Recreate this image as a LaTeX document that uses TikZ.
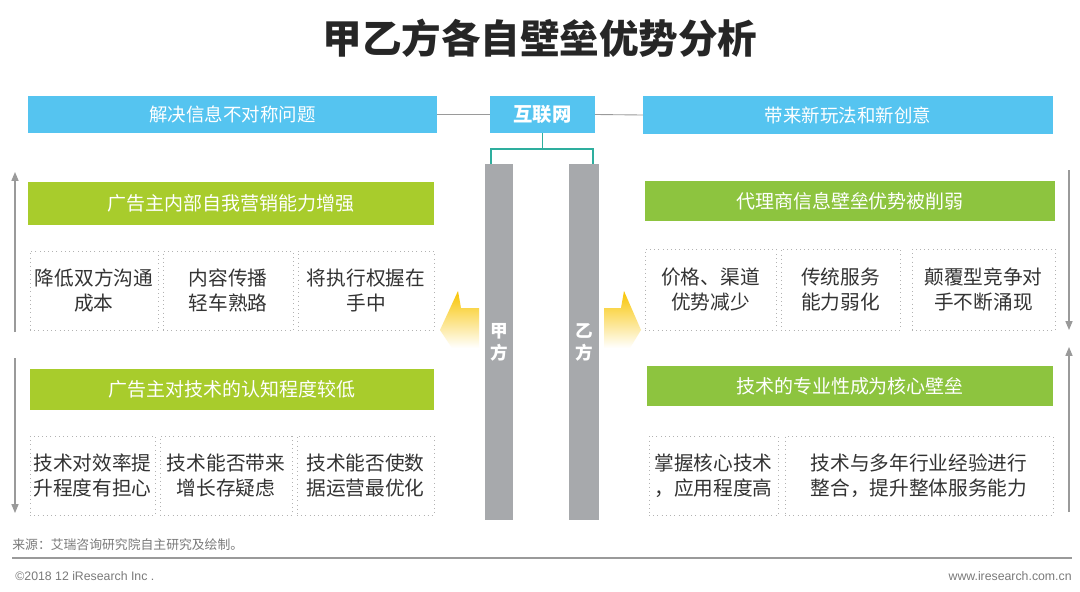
\documentclass[tikz,border=0pt]{standalone}
\usepackage{fontspec}
\setmainfont{Liberation Sans}
\newfontfamily\cjk{Noto Sans CJK SC}
\usetikzlibrary{arrows.meta}
\definecolor{cblue}{HTML}{55C4F0}
\definecolor{cgreenL}{HTML}{A8CC2C}
\definecolor{cgreenR}{HTML}{8DC43F}
\definecolor{cpillar}{HTML}{A7A9AC}
\definecolor{ctext}{HTML}{333333}
\definecolor{cteal}{HTML}{2EAE9E}
\definecolor{cline}{HTML}{9A9A9A}
\definecolor{cyellow}{HTML}{F8C400}
\definecolor{cfoot}{HTML}{7A7A7A}
\begin{document}
\begin{tikzpicture}[x=0.02cm,y=-0.02cm,
  sz/.style 2 args={minimum width=#1*0.02cm, minimum height=#2*0.02cm, inner sep=0pt, outer sep=0pt},
  bluebar/.style={fill=cblue, text=white, font=\cjk\fontsize{10.5}{12}\selectfont},
  hub/.style={fill=cblue, text=white, font=\cjk\bfseries\fontsize{11}{13}\selectfont},
  greenL/.style={fill=cgreenL, text=white, font=\cjk\fontsize{10.8}{12}\selectfont},
  greenR/.style={fill=cgreenR, text=white, font=\cjk\fontsize{10.8}{12}\selectfont},
  dbox/.style={draw=gray!60, dotted, fill=white, text=ctext, align=center, font=\cjk\fontsize{11.2}{14.2}\selectfont},
  pillar/.style={fill=cpillar},
  ptext/.style={text=white, align=center, font=\cjk\bfseries\fontsize{10}{12.5}\selectfont},
  gline/.style={draw=cline, line width=0.5pt},
  tline/.style={draw=cteal, line width=0.7pt},
  sidearrow/.style={draw=cline, line width=0.6pt, -{Triangle[length=5pt,width=4pt]}},
  yarrow/.style={top color=cyellow, bottom color=white, draw=none},
  foot/.style={text=cfoot, font=\fontsize{7}{8}\selectfont, inner sep=0pt},
]
\useasboundingbox (0,0) rectangle (1080,592);
\fill[white] (0,0) rectangle (1080,592);

% title
\node[text=black!85, font=\cjk\bfseries\fontsize{22.5}{26}\selectfont] (title) at (540,38) {甲乙方各自壁垒优势分析};

% top bars
\node[bluebar, sz={409}{37}] (lb) at (232.5,114.5) {解决信息不对称问题};
\node[hub, sz={105}{37}] (ctr) at (542.5,114.5) {互联网};
\node[bluebar, sz={410}{38}] (rb) at (848,115) {带来新玩法和新创意};
\draw[gline] (lb.east) -- (ctr.west);
\draw[gline] (ctr.east) -- (rb.west);

% pillars
\node[pillar, sz={28}{356}] (pl) at (499,342) {};
\node[pillar, sz={30}{356}] (pr) at (584,342) {};
\node[ptext] (plt) at (499,342) {甲\\方};
\node[ptext] (prt) at (584,342) {乙\\方};
\coordinate (tj) at (542.5,149);
\draw[tline] (ctr.south) -- (tj);
\draw[tline] ([xshift=0.12cm]pl.north west) |- (tj) -| ([xshift=-0.12cm]pr.north east);

% yellow arrows
\path[yarrow] (458,291) -- (461,308) -- (479,308) -- (479,348) -- (452,348) -- (440,330) -- cycle;
\path[yarrow] (624,291) -- (621,308) -- (604,308) -- (604,348) -- (630,348) -- (641,330) -- cycle;

% left side
\node[greenL, sz={406}{43}] (lg1) at (231,203.5) {广告主内部自我营销能力增强};
\node[dbox, sz={128}{79}] (l11) at (94,290.5) {降低双方沟通\\成本};
\node[dbox, sz={130}{79}] (l12) at (228,290.5) {内容传播\\轻车熟路};
\node[dbox, sz={136}{79}] (l13) at (366,290.5) {将执行权握在\\手中};
\node[greenL, sz={404}{41}] (lg2) at (232,389.5) {广告主对技术的认知程度较低};
\node[dbox, sz={125}{79}] (l21) at (92.5,475.5) {技术对效率提\\升程度有担心};
\node[dbox, sz={132}{79}] (l22) at (226,475.5) {技术能否带来\\增长存疑虑};
\node[dbox, sz={137}{79}] (l23) at (365.5,475.5) {技术能否使数\\据运营最优化};

% right side
\node[greenR, sz={410}{40}] (rg1) at (850,201) {代理商信息壁垒优势被削弱};
\node[dbox, sz={131}{81}] (r11) at (710.5,289.5) {价格、渠道\\优势减少};
\node[dbox, sz={119}{81}] (r12) at (840.5,289.5) {传统服务\\能力弱化};
\node[dbox, sz={143}{81}] (r13) at (983.5,289.5) {颠覆型竞争对\\手不断涌现};
\node[greenR, sz={406}{40}] (rg2) at (850,386) {技术的专业性成为核心壁垒};
\node[dbox, sz={129}{79}] (r21) at (713.5,475.5) {掌握核心技术\\，应用程度高};
\node[dbox, sz={268}{79}] (r22) at (919,475.5) {技术与多年行业经验进行\\整合，提升整体服务能力};

% side arrows
\coordinate (la1s) at (15,332); \coordinate (la1e) at (15,172);
\coordinate (la2s) at (15,358); \coordinate (la2e) at (15,513);
\coordinate (ra1s) at (1069,170); \coordinate (ra1e) at (1069,330);
\coordinate (ra2s) at (1069,512); \coordinate (ra2e) at (1069,347);
\draw[sidearrow] (la1s) -- (la1e);
\draw[sidearrow] (la2s) -- (la2e);
\draw[sidearrow] (ra1s) -- (ra1e);
\draw[sidearrow] (ra2s) -- (ra2e);

% footer
\node[foot, anchor=west, font=\cjk\fontsize{7.3}{8}\selectfont] (src) at (12,545) {来源：艾瑞咨询研究院自主研究及绘制。};
\coordinate (fl1) at (12,558); \coordinate (fl2) at (1072,558);
\draw[draw=cline, line width=0.6pt] (fl1) -- (fl2);
\node[foot, anchor=west] (copy) at (15,576) {©2018 12 iResearch Inc .};
\node[foot, anchor=east] (web) at (1072,576) {www.iresearch.com.cn};
\end{tikzpicture}
\end{document}
